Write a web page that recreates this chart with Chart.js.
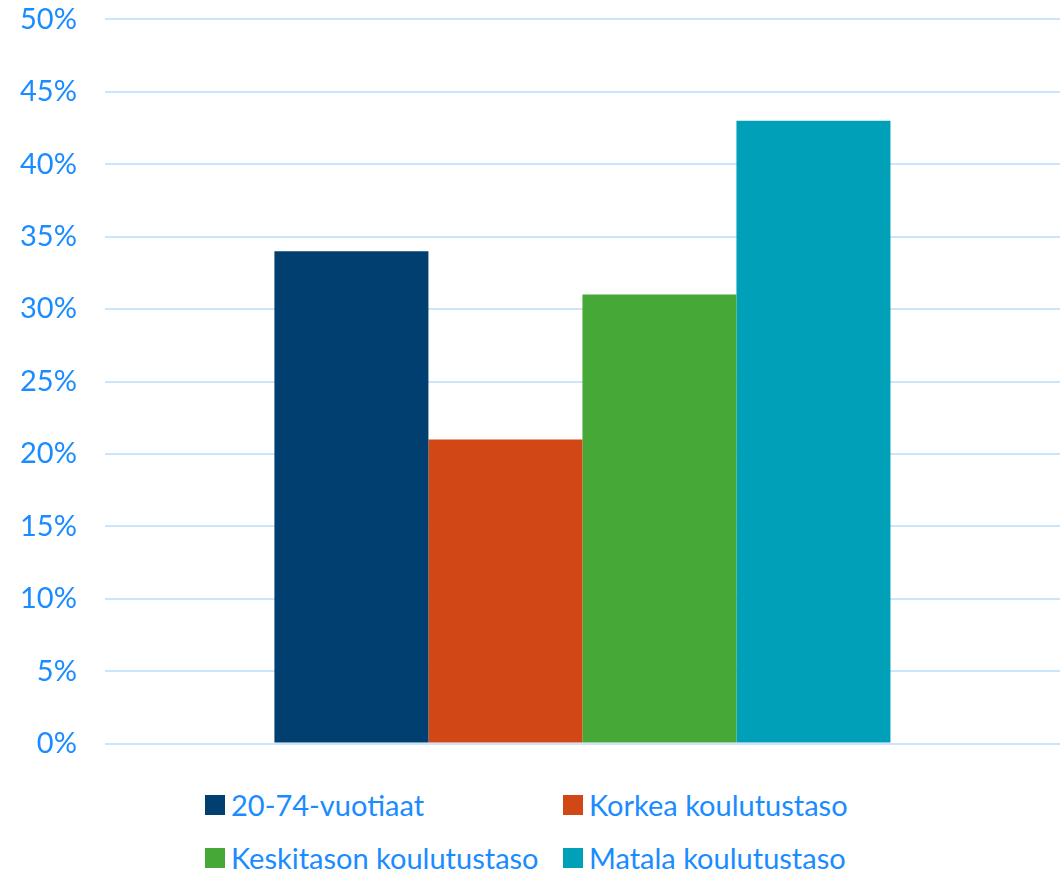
<!DOCTYPE html>
<html>
<head>
<meta charset="utf-8">
<script src="https://cdn.jsdelivr.net/npm/chart.js@4"></script>
<style>
  html, body { margin: 0; padding: 0; background: #fff; overflow: hidden; }
  #wrap { position: relative; width: 1064px; height: 815px; margin-top: -26px; }
  #legend {
    display: grid;
    grid-template-columns: 358px 330px;
    margin-left: 205px;
    row-gap: 20px;
    margin-top: -1px;
    font-family: Lato, sans-serif;
    font-size: 29px;
    color: #1a8cff;
  }
  #legend div { display: flex; align-items: center; height: 33px; white-space: nowrap; }
  #legend span.box { width: 20px; height: 20px; margin-right: 6px; display: inline-block; }
</style>
</head>
<body>
<div id="wrap"><canvas id="chart"></canvas></div>
<div id="legend"></div>
<script>
const categories = [''];
const seriesNames = ['20-74-vuotiaat', 'Korkea koulutustaso', 'Keskitason koulutustaso', 'Matala koulutustaso'];
const seriesValues = [[34], [21], [31], [43]];
const seriesColors = ['#003f70', '#d14715', '#46a837', '#00a0b8'];
const yTicks = [0, 5, 10, 15, 20, 25, 30, 35, 40, 45, 50];

const textColor = '#1a8cff';

document.addEventListener('DOMContentLoaded', () => {
  const canvas = document.getElementById('chart');
  const ctx = canvas.getContext('2d');

  const chart = new Chart(ctx, {
    type: 'bar',
    data: {
      labels: categories,
      datasets: seriesNames.map((name, i) => ({
        label: name,
        data: seriesValues[i],
        backgroundColor: seriesColors[i],
        borderWidth: 0,
        barPercentage: 1,
        categoryPercentage: 0.645
      }))
    },
    options: {
      responsive: true,
      maintainAspectRatio: false,
      animation: false,
      layout: { padding: { top: 0, right: 4, left: -8, bottom: 0 } },
      plugins: {
        legend: { display: false },
        tooltip: { enabled: false }
      },
      scales: {
        x: { display: false },
        y: {
          min: 0,
          max: 50,
          afterBuildTicks: axis => { axis.ticks = yTicks.map(v => ({ value: v })); },
          ticks: {
            color: textColor,
            font: { family: 'Lato, sans-serif', size: 29 },
            padding: 28,
            callback: v => v + '%'
          },
          grid: { color: '#cce5fa', lineWidth: 2, drawTicks: false },
          border: { display: false }
        }
      }
    }
  });

  const legend = document.getElementById('legend');
  chart.data.datasets.forEach(ds => {
    const item = document.createElement('div');
    const box = document.createElement('span');
    box.className = 'box';
    box.style.background = ds.backgroundColor;
    item.appendChild(box);
    item.appendChild(document.createTextNode(ds.label));
    legend.appendChild(item);
  });
});
</script>
</body>
</html>
